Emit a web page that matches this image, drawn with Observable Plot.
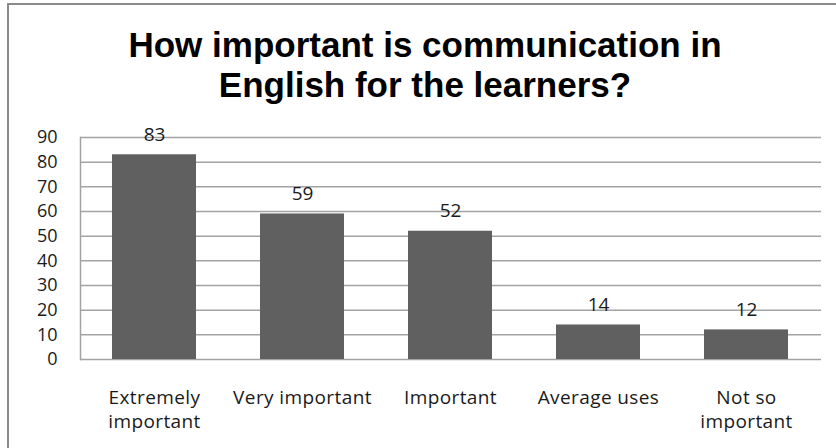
<!DOCTYPE html>
<html>
<head>
<meta charset="utf-8">
<script src="https://cdn.jsdelivr.net/npm/d3@7"></script>
<script src="https://cdn.jsdelivr.net/npm/@observablehq/plot@0.6"></script>
<style>
  html, body { margin: 0; padding: 0; background: #fff; }
  #wrap { position: relative; width: 836px; height: 448px; overflow: hidden; background: #fff; font-family: "Open Sans", sans-serif; }
  #border { position: absolute; left: 7px; top: 3px; right: -5px; bottom: -5px; border-left: 2px solid #8a8a8a; border-top: 2px solid #8a8a8a; }
  #title { position: absolute; left: 0; top: 25px; width: 836px; box-sizing: border-box; padding-left: 14px; text-align: center; font-family: "Liberation Sans", Arial, sans-serif; font-weight: 700; font-size: 35px; line-height: 40px; color: #000; }
  #chart { position: absolute; left: 0; top: 0; }
  #chart svg { overflow: visible; }
  #chart svg g[aria-label="x-axis tick label"] text { letter-spacing: 0.4px; }
</style>
</head>
<body>
<div id="wrap">
  <div id="border"></div>
  <div id="chart"></div>
  <div id="title">How important is communication in<br>English for the learners?</div>
</div>
<script>
const categories = ["Extremely important", "Very important", "Important", "Average uses", "Not so important"];
const values = [83, 59, 52, 14, 12];
const categoryLabels = ["Extremely\nimportant", "Very important", "Important", "Average uses", "Not so\nimportant"];
const yTicks = [0, 10, 20, 30, 40, 50, 60, 70, 80, 90];

const data = categories.map((c, i) => ({category: c, value: values[i]}));

const chart = Plot.plot({
  width: 836,
  height: 448,
  marginLeft: 80,
  marginRight: 15,
  marginTop: 137,
  marginBottom: 89,
  style: {fontFamily: "Open Sans", background: "transparent", color: "#1a1a1a"},
  x: {domain: categories, paddingInner: 0.43, paddingOuter: 0.215, label: null},
  y: {domain: [0, 90], label: null},
  marks: [
    Plot.ruleY(yTicks, {stroke: "#a3a3a3", strokeWidth: 1.5}),
    Plot.frame({anchor: "left", stroke: "#a3a3a3", strokeWidth: 1.5}),
    Plot.barY(data, {x: "category", y: "value", fill: "#606060"}),
    Plot.text(data, {x: "category", y: "value", text: d => String(d.value), lineAnchor: "bottom", dy: -14, fontSize: 19, fill: "#1a1a1a"}),
    Plot.axisY({ticks: yTicks, tickSize: 0, tickPadding: 23, fontSize: 18, label: null}),
    Plot.axisX({tickSize: 0, tickPadding: 27, fontSize: 19, lineHeight: 1.27, label: null,
      tickFormat: d => categoryLabels[categories.indexOf(d)]})
  ]
});
document.getElementById("chart").appendChild(chart);
</script>
</body>
</html>
